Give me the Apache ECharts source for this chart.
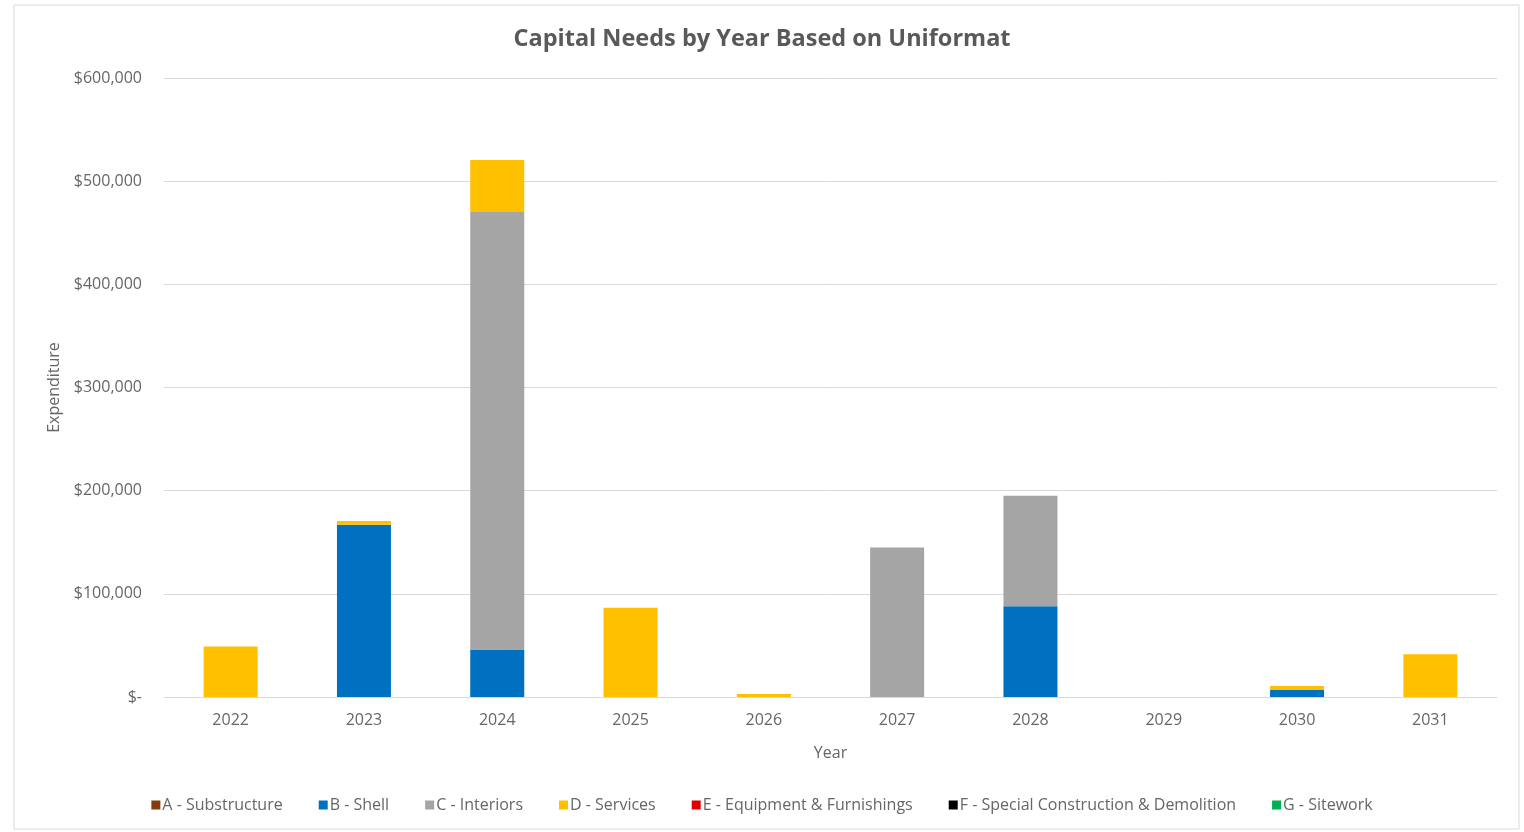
<!DOCTYPE html>
<html><head><meta charset="utf-8">
<script src="https://cdn.jsdelivr.net/npm/echarts@6/dist/echarts.min.js"></script>
<style>html,body{margin:0;padding:0;background:#fff}#c{width:1524px;height:832px}</style>
</head><body><div id="c"></div>
<script>
const years = ['2022','2023','2024','2025','2026','2027','2028','2029','2030','2031'];
const seriesNames = ['A - Substructure','B - Shell','C - Interiors','D - Services','E - Equipment & Furnishings','F - Special Construction & Demolition','G - Sitework'];
const aSubstructure = [0,0,0,0,0,0,0,0,0,0];
const bShell = [0,167000,46000,0,0,0,88000,0,6800,0];
const cInteriors = [0,0,424000,0,0,145000,107000,0,0,0];
const dServices = [49000,3500,50500,86500,3000,0,0,0,3900,41500];
const eEquipment = [0,0,0,0,0,0,0,0,0,0];
const fSpecial = [0,0,0,0,0,0,0,0,0,0];
const gSitework = [0,0,0,0,0,0,0,0,0,0];
const yTicks = [0,100000,200000,300000,400000,500000,600000];
const colors = ['#843C0C','#0070C0','#A5A5A5','#FFC000','#E00000','#000000','#00B050'];
const allData = [aSubstructure,bShell,cInteriors,dServices,eEquipment,fSpecial,gSitework];

const font = 'Open Sans';
const txt = '#666666';
const chart = echarts.init(document.getElementById('c'));
chart.setOption({
  animation:false,
  color:colors,
  graphic:[{type:'rect',shape:{x:14,y:5,width:1505,height:824},style:{fill:'none',stroke:'#d9d9d9',lineWidth:1},silent:true}],
  title:{text:'Capital Needs by Year Based on Uniformat',left:'center',top:22,
    textStyle:{fontFamily:font,fontSize:23.5,fontWeight:'bold',color:'#595959'}},
  legend:{bottom:14,left:'center',itemWidth:9,itemHeight:9,itemGap:36,icon:'rect',
    textStyle:{fontFamily:font,fontSize:16,color:txt,padding:[0,0,0,-3]},
    data:seriesNames},
  grid:{left:164,right:27,top:78,bottom:135},
  xAxis:{type:'category',data:years,name:'Year',nameLocation:'middle',nameGap:48,
    nameTextStyle:{fontFamily:font,fontSize:16,color:txt},
    axisLine:{lineStyle:{color:'#d9d9d9'}},axisTick:{show:false},
    axisLabel:{fontFamily:font,fontSize:16,color:txt,margin:15}},
  yAxis:{type:'value',min:yTicks[0],max:yTicks[yTicks.length-1],interval:100000,
    name:'Expenditure',nameLocation:'middle',nameGap:102,nameRotate:90,
    nameTextStyle:{fontFamily:font,fontSize:16,color:txt},
    axisLine:{show:false},axisTick:{show:false},
    splitLine:{lineStyle:{color:'#d9d9d9'}},
    axisLabel:{fontFamily:font,fontSize:16,color:txt,margin:22,
      formatter:v=> v===0 ? '$-' : '$'+v.toLocaleString('en-US')}},
  series:seriesNames.map((n,i)=>({name:n,type:'bar',stack:'total',barWidth:54,
    data:allData[i],itemStyle:{color:colors[i]}}))
});
</script></body></html>
